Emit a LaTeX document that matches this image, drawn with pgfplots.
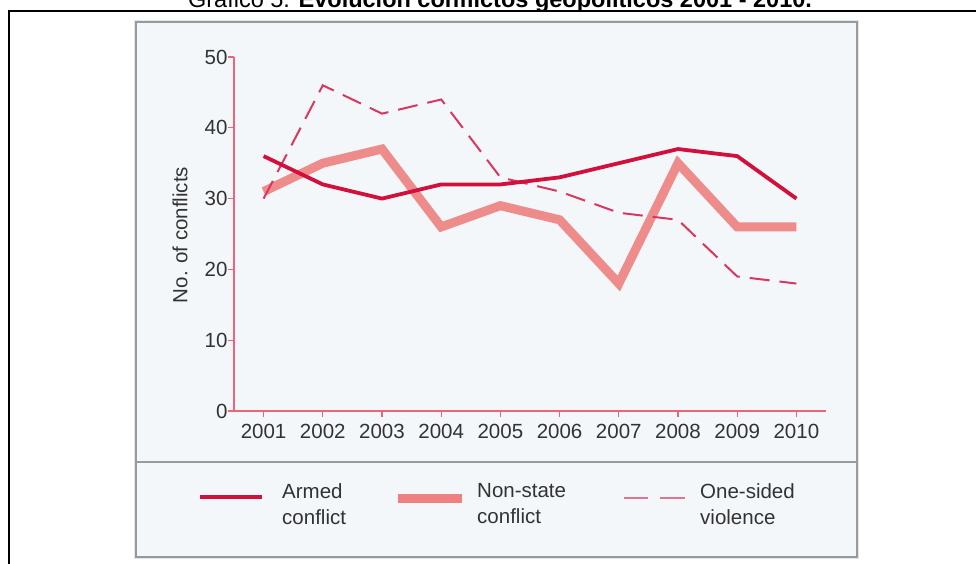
\documentclass[border=0pt]{standalone}
\usepackage{fontspec}
\setmainfont{Liberation Sans}
\usepackage{pgfplots}
\pgfplotsset{compat=1.18}
\definecolor{armed}{RGB}{210,16,60}
\definecolor{nonstate}{RGB}{238,128,128}
\definecolor{onesided}{RGB}{218,55,95}
\definecolor{axispink}{RGB}{234,100,122}
\definecolor{panelbg}{RGB}{243,247,250}
\definecolor{panelborder}{RGB}{150,155,160}
\definecolor{tickgray}{RGB}{50,50,50}
\begin{document}
\begin{tikzpicture}[x=1pt,y=1pt]
\useasboundingbox (0,0) rectangle (976,564);
% title (cropped at the top in the reference)
\node[anchor=base, font=\fontsize{23.5}{26}\selectfont, inner sep=0] at (500,556) {Gráfico 5. \textbf{Evolución conflictos geopolíticos 2001 - 2010.}};
% outer frame
\draw[line width=2pt] (9,0) -- (9,553) -- (976,553);
% panel
\draw[black!10, line width=3.5pt] (136,7) rectangle (857,542);
\draw[panelborder, fill=panelbg, line width=1.6pt] (136,7) rectangle (857,542);
\draw[panelborder, line width=1.8pt] (136,102) -- (857,102);
% y label
\node[rotate=90, font=\fontsize{20.5}{24}\selectfont, text=tickgray] at (180,329) {No. of conflicts};
\begin{axis}[
  at={(234pt,153pt)}, anchor=south west,
  scale only axis, width=592pt, height=354pt,
  xmin=2000.5, xmax=2010.5, ymin=0, ymax=50,
  axis x line=bottom, axis y line=left,
  axis line style={axispink, line width=1.8pt, -},
  xtick={2001,...,2010}, ytick={0,10,...,50},
  tick align=outside, major tick length=6pt,
  tick style={axispink, line width=1.3pt},
  /pgf/number format/1000 sep={},
  /pgf/number format/assume math mode=true,
  tick label style={font=\fontsize{20.5}{24}\selectfont, text=tickgray},
  xticklabel style={yshift=-4pt},
  yticklabel style={xshift=3pt},
  clip=false,
]
\addplot[nonstate, line width=9pt, line join=miter, opacity=0.9] coordinates {
(2001,31) (2002,35) (2003,37) (2004,26) (2005,29) (2006,27) (2007,18) (2008,35) (2009,26) (2010,26)};
\addplot[onesided, line width=2pt, dash pattern=on 20pt off 10pt, line join=miter] coordinates {
(2001,30) (2002,46) (2003,42) (2004,44) (2005,33) (2006,31) (2007,28) (2008,27) (2009,19) (2010,18)};
\addplot[armed, line width=3.8pt, line join=round] coordinates {
(2001,36) (2002,32) (2003,30) (2004,32) (2005,32) (2006,33) (2007,35) (2008,37) (2009,36) (2010,30)};
\end{axis}
% legend
\draw[armed, line width=4pt] (200,67) -- (262,67);
\draw[nonstate, line width=9pt] (398,65) -- (462,65);
\draw[onesided!70, line width=2pt] (624,66) -- (648,66) (660,66) -- (685,66);
\node[anchor=west, align=left, text=tickgray, font=\fontsize{20.5}{26}\selectfont, inner sep=0] at (282,60) {Armed\\conflict};
\node[anchor=west, align=left, text=tickgray, font=\fontsize{20.5}{26}\selectfont, inner sep=0] at (477,60) {Non-state\\conflict};
\node[anchor=west, align=left, text=tickgray, font=\fontsize{20.5}{26}\selectfont, inner sep=0] at (700,60) {One-sided\\violence};
\end{tikzpicture}
\end{document}
